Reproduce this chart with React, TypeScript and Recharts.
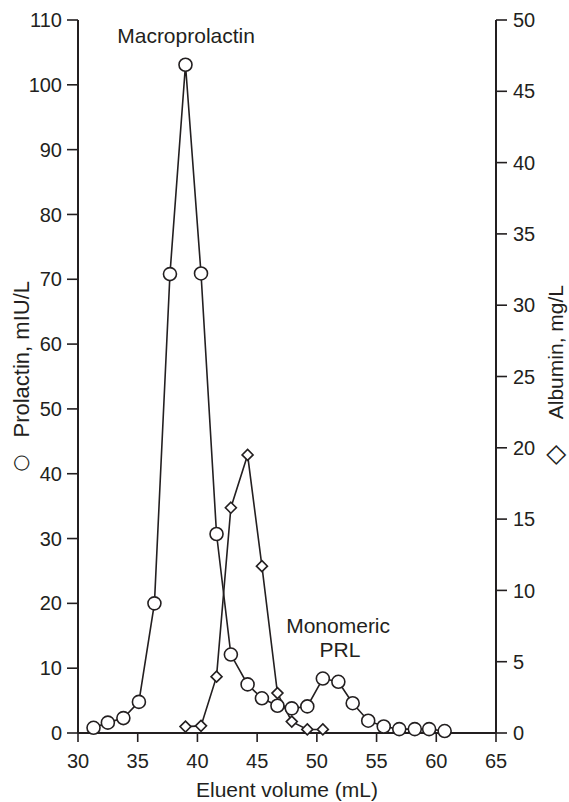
import React from 'react';
import { LineChart, Line, XAxis, YAxis, ReferenceDot } from 'recharts';

const prolactinVolume = [31.3, 32.5, 33.8, 35.1, 36.4, 37.7, 39.0, 40.3, 41.6, 42.8, 44.2, 45.4, 46.7, 47.9, 49.2, 50.5, 51.8, 53.0, 54.3, 55.6, 56.9, 58.2, 59.4, 60.7];
const prolactinValues = [0.8, 1.6, 2.3, 4.8, 20.0, 70.8, 103.1, 70.9, 30.7, 12.1, 7.5, 5.35, 4.2, 3.8, 4.1, 8.4, 7.9, 4.6, 1.9, 1.0, 0.6, 0.6, 0.6, 0.3];

const albuminVolume = [39.0, 40.3, 41.6, 42.8, 44.2, 45.4, 46.7, 47.9, 49.2, 50.5];
const albuminValues = [0.45, 0.5, 3.95, 15.8, 19.5, 11.7, 2.8, 0.8, 0.25, 0.25];

const xTicks = [30, 35, 40, 45, 50, 55, 60, 65];
const leftTicks = [0, 10, 20, 30, 40, 50, 60, 70, 80, 90, 100, 110];
const rightTicks = [0, 5, 10, 15, 20, 25, 30, 35, 40, 45, 50];

const prolactinData = prolactinVolume.map((x, i) => ({ x, prl: prolactinValues[i] }));
const albuminData = albuminVolume.map((x, i) => ({ x, alb: albuminValues[i] }));

const INK = '#231f20';
const FONT = '"Liberation Sans", Arial, Helvetica, sans-serif';
const SYMFONT = '"DejaVu Sans", sans-serif';

const Diamond = (props: any) => {
  const { cx, cy, index } = props;
  if (cx == null || cy == null) return null;
  const s = 5.5;
  return (
    <path
      key={`d-${index}`}
      d={`M${cx},${cy - s}L${cx + s},${cy}L${cx},${cy + s}L${cx - s},${cy}Z`}
      fill="#fff"
      stroke={INK}
      strokeWidth={1.6}
    />
  );
};

const Circle = (props: any) => {
  const { cx, cy, index } = props;
  if (cx == null || cy == null) return null;
  return <circle key={`c-${index}`} cx={cx} cy={cy} r={6.5} fill="#fff" stroke={INK} strokeWidth={1.6} />;
};

const annot = (text: string) => (props: any) => {
  const vb = props.viewBox || {};
  const x = (vb.x ?? 0) + (vb.width ?? 0) / 2;
  const y = (vb.y ?? 0) + (vb.height ?? 0) / 2;
  return (
    <text x={x} y={y} textAnchor="middle" fontFamily={FONT} fontSize={21} fill={INK}>
      {text}
    </text>
  );
};

const rotatedLabel = (text: string, symbol: string, dxText: number, dxSym: number, textTop: number, symCenter: number, symSize: number, textSize: number) => (props: any) => {
  const vb = props.viewBox || {};
  const x = (vb.x ?? 0) + dxText;
  const y = (vb.y ?? 0) + textTop;
  const sx = (vb.x ?? 0) + dxSym;
  const sy = (vb.y ?? 0) + symCenter;
  return (
    <g>
      <text x={sx} y={sy} transform={`rotate(-90 ${sx} ${sy})`} textAnchor="middle" fontFamily={SYMFONT} fontSize={symSize} fill={INK}>
        {symbol}
      </text>
      <text x={x} y={y} transform={`rotate(-90 ${x} ${y})`} textAnchor="end" fontFamily={FONT} fontSize={textSize} fill={INK}>
        {text}
      </text>
    </g>
  );
};

const leftLabel = rotatedLabel('Prolactin, mIU/L', '○', 28.5, 27, 261, 443, 20, 22);
const rightLabel = rotatedLabel('Albumin, mg/L', '◇', 67, 67.3, 265, 435, 26, 21);

const bottomLabel = (props: any) => {
  const vb = props.viewBox || {};
  const x = (vb.x ?? 0) + (vb.width ?? 0) / 2;
  const y = (vb.y ?? 0) + 64;
  return (
    <text x={x} y={y} textAnchor="middle" fontFamily={FONT} fontSize={21} fill={INK}>
      Eluent volume (mL)
    </text>
  );
};

const tickStyle = { fontFamily: FONT, fontSize: 20, fill: INK };
const axisLine = { stroke: INK, strokeWidth: 2 };
const tickLine = { stroke: INK, strokeWidth: 1.6 };

export default function App() {
  return (
    <div style={{ position: 'absolute', left: 0, top: 0, width: 569, height: 802, background: '#fff' }}>
      <LineChart width={569} height={802} margin={{ top: 20, right: 0, bottom: 0, left: 0 }}>
        <XAxis
          type="number"
          dataKey="x"
          domain={[30, 65]}
          ticks={xTicks}
          allowDataOverflow
          height={69}
          tickSize={9}
          tickMargin={12}
          tick={tickStyle}
          axisLine={axisLine}
          tickLine={tickLine}
          label={bottomLabel}
        />
        <YAxis
          yAxisId="left"
          orientation="left"
          type="number"
          domain={[0, 110]}
          ticks={leftTicks}
          width={78}
          tickSize={11}
          tickMargin={5}
          tick={tickStyle}
          axisLine={axisLine}
          tickLine={tickLine}
          label={leftLabel}
        />
        <YAxis
          yAxisId="right"
          orientation="right"
          type="number"
          domain={[0, 50]}
          ticks={rightTicks}
          width={73}
          tickSize={11}
          tickMargin={6}
          tick={tickStyle}
          axisLine={axisLine}
          tickLine={tickLine}
          label={rightLabel}
        />
        <Line
          yAxisId="right"
          data={albuminData}
          dataKey="alb"
          type="linear"
          stroke={INK}
          strokeWidth={1.6}
          dot={Diamond}
          activeDot={false}
          isAnimationActive={false}
        />
        <Line
          yAxisId="left"
          data={prolactinData}
          dataKey="prl"
          type="linear"
          stroke={INK}
          strokeWidth={1.6}
          dot={Circle}
          activeDot={false}
          isAnimationActive={false}
        />
        <ReferenceDot yAxisId="left" x={39.05} y={106.5} r={0} stroke="none" fill="none" label={annot('Macroprolactin')} />
        <ReferenceDot yAxisId="left" x={51.78} y={15.4} r={0} stroke="none" fill="none" label={annot('Monomeric')} />
        <ReferenceDot yAxisId="left" x={51.94} y={11.7} r={0} stroke="none" fill="none" label={annot('PRL')} />
      </LineChart>
    </div>
  );
}
